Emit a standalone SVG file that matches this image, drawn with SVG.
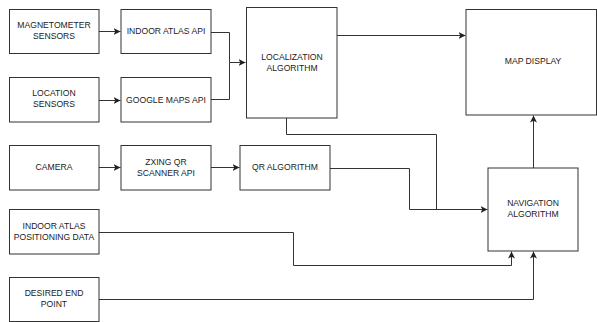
<svg xmlns="http://www.w3.org/2000/svg" width="597" height="322" viewBox="0 0 597 322">
<style>
.box{fill:#fff;stroke:#333;stroke-width:1}
.t{font-family:"Liberation Sans",Arial,sans-serif;font-size:8.6px;fill:#222;text-anchor:middle}
.c{fill:none;stroke:#333;stroke-width:1}
</style>
<defs>
<marker id="a" markerUnits="userSpaceOnUse" markerWidth="8" markerHeight="8" refX="7" refY="3.5" orient="auto">
<path d="M0,0 L7,3.5 L0,7 L1.8,3.5 Z" fill="#222"/>
</marker>
</defs>
<rect width="597" height="322" fill="#fff"/>
<g id="connectors">
<path class="c" d="M99,31.5 H120.5" marker-end="url(#a)"/>
<path class="c" d="M99,100.5 H120.5" marker-end="url(#a)"/>
<path class="c" d="M211,32.5 H229.5 V62.5 H245.5" marker-end="url(#a)"/>
<path class="c" d="M211,99.5 H229.5 V62.5"/>
<path class="c" d="M337,35.5 H465.5" marker-end="url(#a)"/>
<path class="c" d="M99,167.5 H120.5" marker-end="url(#a)"/>
<path class="c" d="M211,167.5 H239.5" marker-end="url(#a)"/>
<path class="c" d="M330,168.5 H409.5 V209.5 H487.5" marker-end="url(#a)"/>
<path class="c" d="M286.5,118 V134.5 H436.5 V209.5"/>
<path class="c" d="M99,232.5 H293.5 V265.5 H511.5 V251.5" marker-end="url(#a)"/>
<path class="c" d="M99,299.5 H533.5 V251.5" marker-end="url(#a)"/>
<path class="c" d="M533.5,168 V115.5" marker-end="url(#a)"/>
</g>
<g id="magnetometer">
<rect class="box" x="9.5" y="9.5" width="89.5" height="44"/>
<text class="t" x="54" y="28">MAGNETOMETER</text>
<text class="t" x="54" y="39">SENSORS</text>
</g>
<g id="indoor-atlas-api">
<rect class="box" x="121" y="9.5" width="90" height="44"/>
<text class="t" x="166" y="34">INDOOR ATLAS API</text>
</g>
<g id="location-sensors">
<rect class="box" x="9.5" y="77.5" width="89.5" height="44.5"/>
<text class="t" x="54" y="96">LOCATION</text>
<text class="t" x="54" y="107">SENSORS</text>
</g>
<g id="google-maps-api">
<rect class="box" x="121" y="77.5" width="90" height="44.5"/>
<text class="t" x="166" y="103">GOOGLE MAPS API</text>
</g>
<g id="localization">
<rect class="box" x="246.5" y="7.5" width="90.5" height="110.5"/>
<text class="t" x="292" y="60">LOCALIZATION</text>
<text class="t" x="292" y="71">ALGORITHM</text>
</g>
<g id="map-display">
<rect class="box" x="466" y="9.5" width="130.5" height="105.5"/>
<text class="t" x="533" y="64">MAP DISPLAY</text>
</g>
<g id="camera">
<rect class="box" x="9.5" y="145.5" width="89.5" height="44.5"/>
<text class="t" x="54" y="170">CAMERA</text>
</g>
<g id="zxing">
<rect class="box" x="121" y="145.5" width="90" height="44.5"/>
<text class="t" x="166" y="165">ZXING QR</text>
<text class="t" x="166" y="176">SCANNER API</text>
</g>
<g id="qr-algorithm">
<rect class="box" x="240" y="145.5" width="90" height="44.5"/>
<text class="t" x="285" y="170">QR ALGORITHM</text>
</g>
<g id="positioning-data">
<rect class="box" x="9.5" y="209.5" width="89.5" height="44.5"/>
<text class="t" x="54" y="228.5">INDOOR ATLAS</text>
<text class="t" x="54" y="240">POSITIONING DATA</text>
</g>
<g id="desired-end-point">
<rect class="box" x="9.5" y="277.5" width="89.5" height="44"/>
<text class="t" x="54" y="296">DESIRED END</text>
<text class="t" x="54" y="307">POINT</text>
</g>
<g id="navigation">
<rect class="box" x="488" y="168" width="90" height="83"/>
<text class="t" x="533" y="205.5">NAVIGATION</text>
<text class="t" x="533" y="217">ALGORITHM</text>
</g>
</svg>
